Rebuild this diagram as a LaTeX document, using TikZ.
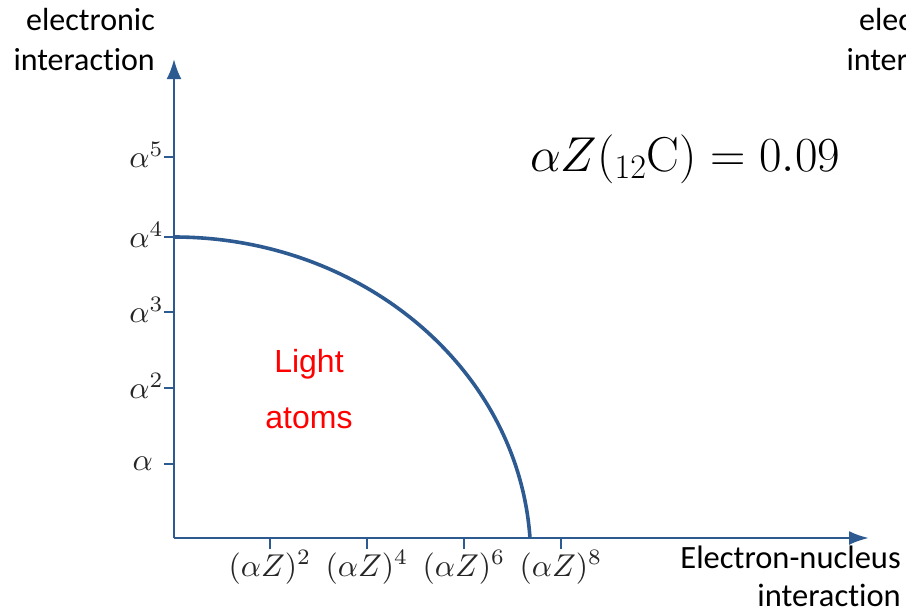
\RequirePackage{fix-cm}
\documentclass[tikz,border=0pt]{standalone}
\usepackage{graphicx}
\usepackage[no-math]{fontspec}
\setmainfont{Carlito}[Ligatures=NoCommon]
\newfontfamily\arialfont{Liberation Sans}
\usetikzlibrary{arrows.meta}
\definecolor{axisblue}{RGB}{44,90,145}
\newcommand{\bigmath}[1]{\scalebox{3.15}{$#1$}}
\begin{document}
\begin{tikzpicture}[x=1pt,y=-1pt,
  axisline/.style={draw=axisblue,line width=2.6pt},
  tickline/.style={draw=axisblue,line width=2.6pt},
  curveline/.style={draw=axisblue,line width=3.6pt},
  ylab/.style={anchor=east,inner sep=0pt,text=black!85},
  xlab/.style={anchor=base,inner sep=0pt,text=black!85},
  axtitle/.style={inner sep=0pt,align=right,font=\fontsize{32}{40}\selectfont}]
\useasboundingbox (0,0) rectangle (906,611);
% axes
\coordinate (O) at (174,538);
\coordinate (ytip) at (174,59);
\coordinate (xtip) at (869,538);
\draw[axisline,-{Latex[length=20pt,width=15pt]}] (O) -- (ytip);
\draw[axisline,-{Latex[length=20pt,width=14pt]}] (O) -- (xtip);
% y ticks
\foreach \n/\yy in {5/157,4/237,3/312,2/388}{
  \coordinate (yt\n) at (174,\yy);
  \coordinate (ys\n) at (164,\yy);
  \draw[tickline] (yt\n) -- (ys\n);
  \node[ylab] (yl\n) at (164,\yy-2) {\bigmath{\alpha^{\n}}};
}
\coordinate (yt1) at (174,464);
\coordinate (ys1) at (164,464);
\draw[tickline] (yt1) -- (ys1);
\node[ylab] (yl1) at (153,464) {\bigmath{\alpha}};
% x ticks
\foreach \n/\xx in {2/270,4/367,6/464,8/561}{
  \coordinate (xt\n) at (\xx,538);
  \coordinate (xs\n) at (\xx,549);
  \draw[tickline] (xt\n) -- (xs\n);
  \node[xlab] (xl\n) at (\xx,576) {\bigmath{(\alpha Z)^{\n}}};
}
% curve
\draw[curveline] (yt4) arc[start angle=-90, end angle=-3.57, x radius=356.7, y radius=321];
% labels
\node[axtitle,anchor=base east] (ylabel) at (155,70) {electronic\\interaction};
\node[axtitle,anchor=base east] (ylabel2) at (988,70) {electronic\\interaction};
\node[axtitle,anchor=base east,font=\fontsize{32.5}{38}\selectfont] (xlabel) at (901,606) {Electron-nucleus\\interaction};
\node[inner sep=0pt,align=center,text=red,font=\arialfont\fontsize{32}{56}\selectfont,anchor=base] (light) at (309,428) {Light\\atoms};
\node[inner sep=0pt,anchor=base west,font=\fontsize{49}{54}\selectfont] (eq) at (530,171) {$\alpha Z({}_{12}\mathrm{C}) = 0.09$};
\end{tikzpicture}
\end{document}
